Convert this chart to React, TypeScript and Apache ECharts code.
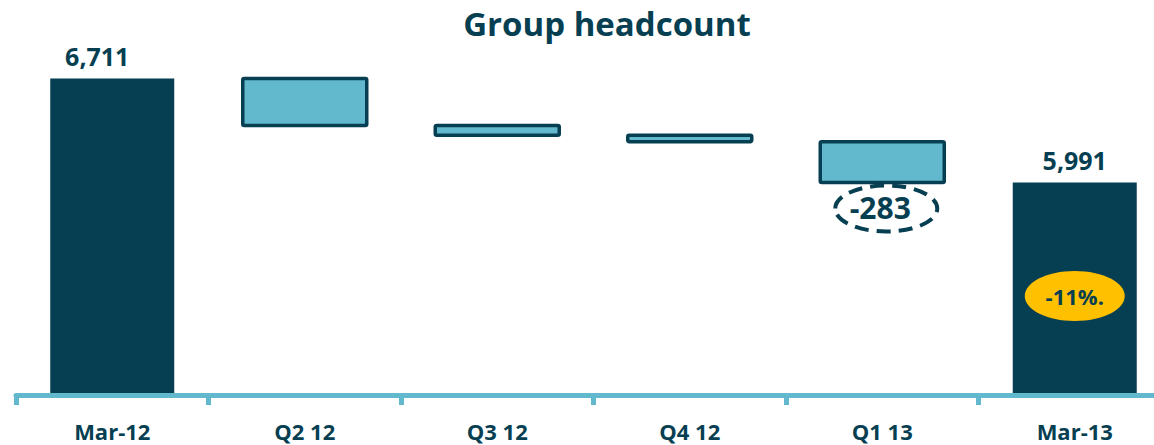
import React, { useEffect, useRef } from "react";
import * as echarts from "echarts";

const categories = ["Mar-12", "Q2 12", "Q3 12", "Q4 12", "Q1 13", "Mar-13"];
const openingHeadcount = 6711;
const quarterlyChanges = [-325, -67, -45, -283];
const closingHeadcount = 5991;
const highlightedChangeIndex = 4;
const percentChangeText = "-11%.";
const yMin = 4520;
const yMax = 6943;
const badgeValue = 5205;

const DARK = "#073f52";
const LIGHT = "#62b8cc";
const YELLOW = "#ffc000";
const FONT = "'Open Sans', 'Noto Sans', sans-serif";
const BAR_W = 124;

const fmt = (v: number) => v.toLocaleString("en-US");

export default function App() {
  const ref = useRef<HTMLDivElement>(null);
  useEffect(() => {
    if (!ref.current) return;
    const chart = echarts.init(ref.current, undefined, { renderer: "svg" });

    const totals: any[] = categories.map(() => "-");
    totals[0] = {
      value: openingHeadcount,
      label: { show: true, offset: [-15, 0] },
    };
    totals[categories.length - 1] = {
      value: closingHeadcount,
      label: { show: true },
    };

    const deltaBoxes: number[][] = [];
    let level = openingHeadcount;
    quarterlyChanges.forEach((c, i) => {
      const next = level + c;
      deltaBoxes.push([i + 1, Math.min(level, next), Math.max(level, next)]);
      level = next;
    });

    chart.setOption({
      animation: false,
      title: {
        text: "Group headcount",
        left: 602,
        top: 2,
        textAlign: "center",
        textStyle: { color: DARK, fontSize: 33, fontWeight: "bold", fontFamily: FONT },
      },
      grid: { left: 16, right: 4, top: 45, bottom: 50, containLabel: false },
      xAxis: {
        type: "category",
        data: categories,
        axisLine: { show: true, lineStyle: { color: LIGHT, width: 5 } },
        axisTick: { show: true, length: 10, lineStyle: { color: LIGHT, width: 5 } },
        axisLabel: {
          color: DARK,
          fontSize: 22,
          lineHeight: 22,
          fontWeight: "bold",
          fontFamily: FONT,
          margin: 25,
        },
        z: 10,
      },
      yAxis: {
        type: "value",
        min: yMin,
        max: yMax,
        show: false,
        splitLine: { show: false },
      },
      series: [
        {
          type: "bar",
          data: totals,
          barWidth: BAR_W,
          itemStyle: { color: DARK },
          label: {
            show: false,
            position: "top",
            color: DARK,
            fontSize: 25,
            fontWeight: "bold",
            fontFamily: FONT,
            distance: 10,
            formatter: (p: any) => fmt(p.value),
          },
        },
        {
          type: "custom",
          data: deltaBoxes,
          encode: { x: 0, y: [1, 2] },
          renderItem: (params: any, api: any) => {
            const idx = api.value(0);
            const lo = api.coord([idx, api.value(1)]);
            const hi = api.coord([idx, api.value(2)]);
            return {
              type: "rect",
              shape: { x: lo[0] - BAR_W / 2, y: hi[1], width: BAR_W, height: lo[1] - hi[1], r: 1.5 },
              style: { fill: LIGHT, stroke: DARK, lineWidth: 3.5 },
            };
          },
          z: 5,
        },
      ],
    });

    let lvl = openingHeadcount;
    for (let i = 0; i < highlightedChangeIndex; i++) lvl += quarterlyChanges[i];
    const q1Bottom = chart.convertToPixel({ gridIndex: 0 }, [categories[highlightedChangeIndex], lvl]) as number[];
    const badge = chart.convertToPixel({ gridIndex: 0 }, [categories[categories.length - 1], badgeValue]) as number[];
    const changeText = String(quarterlyChanges[highlightedChangeIndex - 1]);

    chart.setOption({
      graphic: [
        {
          type: "ellipse",
          shape: { cx: q1Bottom[0] + 4, cy: q1Bottom[1] + 26, rx: 51, ry: 23 },
          style: { fill: "#fff", stroke: DARK, lineWidth: 4, lineDash: [14, 8] },
          z: 20,
        },
        {
          type: "text",
          x: q1Bottom[0] - 2,
          y: q1Bottom[1] + 25,
          style: {
            text: changeText,
            fill: DARK,
            font: `bold 30px ${FONT}`,
            textAlign: "center",
            textVerticalAlign: "middle",
          },
          z: 21,
        },
        {
          type: "ellipse",
          shape: { cx: badge[0], cy: badge[1], rx: 50, ry: 25 },
          style: { fill: YELLOW },
          z: 20,
        },
        {
          type: "text",
          x: badge[0],
          y: badge[1],
          style: {
            text: percentChangeText,
            fill: DARK,
            font: `bold 22px ${FONT}`,
            textAlign: "center",
            textVerticalAlign: "middle",
          },
          z: 21,
        },
      ],
    });

    return () => chart.dispose();
  }, []);
  return (
    <div
      ref={ref}
      style={{ position: "fixed", left: 0, top: 0, width: 1175, height: 445, background: "#fff" }}
    />
  );
}
